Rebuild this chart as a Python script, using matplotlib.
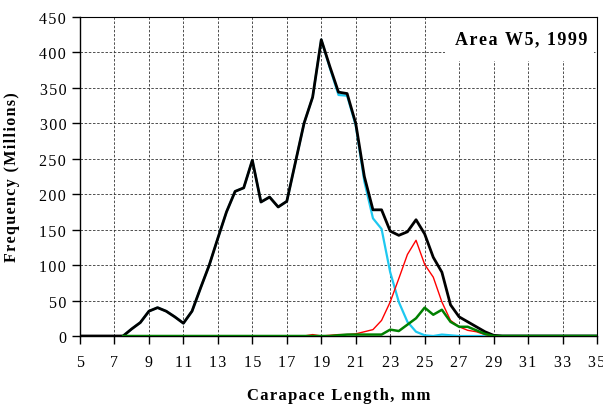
import numpy as np
import matplotlib
matplotlib.use("Agg")
import matplotlib.pyplot as plt
from matplotlib.patches import Rectangle

plt.rcParams['font.family'] = ['Liberation Serif', 'DejaVu Serif']

# carapace length classes, 0.5 mm
sizes = np.arange(5, 35.5, 0.5)

total = [0, 0, 0, 0, 0, 0, 10, 19, 35, 40, 35, 27, 18, 35, 68, 100, 138, 175,
         204, 209, 248, 189, 196, 182, 190, 245, 300, 337, 418, 380, 344, 342,
         300, 225, 178, 178, 148, 142, 147, 164, 144, 111, 90, 44, 27, 20, 13,
         6, 1, 0, 0, 0, 0, 0, 0, 0, 0, 0, 0, 0, 0]
age1 = [0, 0, 0, 0, 0, 0, 10, 19, 35, 40, 35, 27, 18, 35, 68, 100, 138, 175,
        204, 209, 248, 189, 196, 182, 190, 245, 300, 337, 418, 378, 340, 339,
        297, 218, 166, 151, 90, 48, 20, 6, 1, 0, 2, 1, 0, 0, 0,
        0, 0, 0, 0, 0, 0, 0, 0, 0, 0, 0, 0, 0, 0]
age2 = [0, 0, 0, 0, 0, 0, 0, 0, 0, 0, 0, 0, 0, 0, 0, 0, 0, 0,
        0, 0, 0, 0, 0, 0, 0, 0, 0, 2, 0, 1, 2, 2,
        3, 6, 9, 22, 48, 81, 115, 135, 101, 83, 48, 22, 13, 8, 6,
        2, 0, 0, 0, 0, 0, 0, 0, 0, 0, 0, 0, 0, 0]
age3 = [0, 0, 0, 0, 0, 0, 0, 0, 0, 0, 0, 0, 0, 0, 0, 0, 0, 0,
        0, 0, 0, 0, 0, 0, 0, 0, 0, 0, 0, 0, 1, 2,
        2, 2, 2, 2, 9, 7, 16, 25, 40, 30, 37, 20, 13, 13, 8,
        3, 0, 0, 0, 0, 0, 0, 0, 0, 0, 0, 0, 0, 0]

start = 5  # components drawn from 7.5 mm


def spaced(s):
    # wide letter spacing like the original
    return '\u200a'.join(s)


fig = plt.figure(figsize=(6.03, 4.14), dpi=100)
ax = fig.add_axes([0.1327, 0.186, 0.8573, 0.7705])

ax.plot(sizes[start:], age1[start:], color='#1ec8f0', lw=1.6, zorder=3)
ax.plot(sizes, total, color='black', lw=2.0, zorder=4)
ax.plot(sizes[start:], age2[start:], color='red', lw=1.0, zorder=5)
ax.plot(sizes[start:], age3[start:], color='#008000', lw=1.8, zorder=6)

ax.set_xlim(5, 35)
ax.set_ylim(0, 450)
xt = np.arange(5, 36, 2)
yt = np.arange(0, 451, 50)
ax.set_xticks(xt)
ax.set_xticklabels([spaced(str(v)) for v in xt])
ax.set_yticks(yt)
ax.set_yticklabels([spaced(str(v)) for v in yt])
ax.grid(True, color='#333333', ls=(0, (3, 2)), lw=0.6)
ax.set_axisbelow(True)
ax.tick_params(direction='out', length=6, width=1, labelsize=11.5, pad=4)
ax.tick_params(axis='x', pad=7)
for s in ax.spines.values():
    s.set_linewidth(0.8)
ax.spines['left'].set_linewidth(1.0)
ax.spines['bottom'].set_linewidth(1.0)

ax.set_xlabel(spaced('Carapace Length, mm'), fontsize=12, fontweight='bold', labelpad=12)
ax.set_ylabel(spaced('Frequency (Millions)'), fontsize=11.5, fontweight='bold', labelpad=14)

ax.add_patch(Rectangle((26.2, 388), 8.6, 62, facecolor='white', edgecolor='none', zorder=2))
ax.text(30.6, 419, spaced('Area W5, 1999'), fontsize=13, fontweight='bold',
        ha='center', va='center', zorder=7)

fig.savefig('out.png', dpi=100)
